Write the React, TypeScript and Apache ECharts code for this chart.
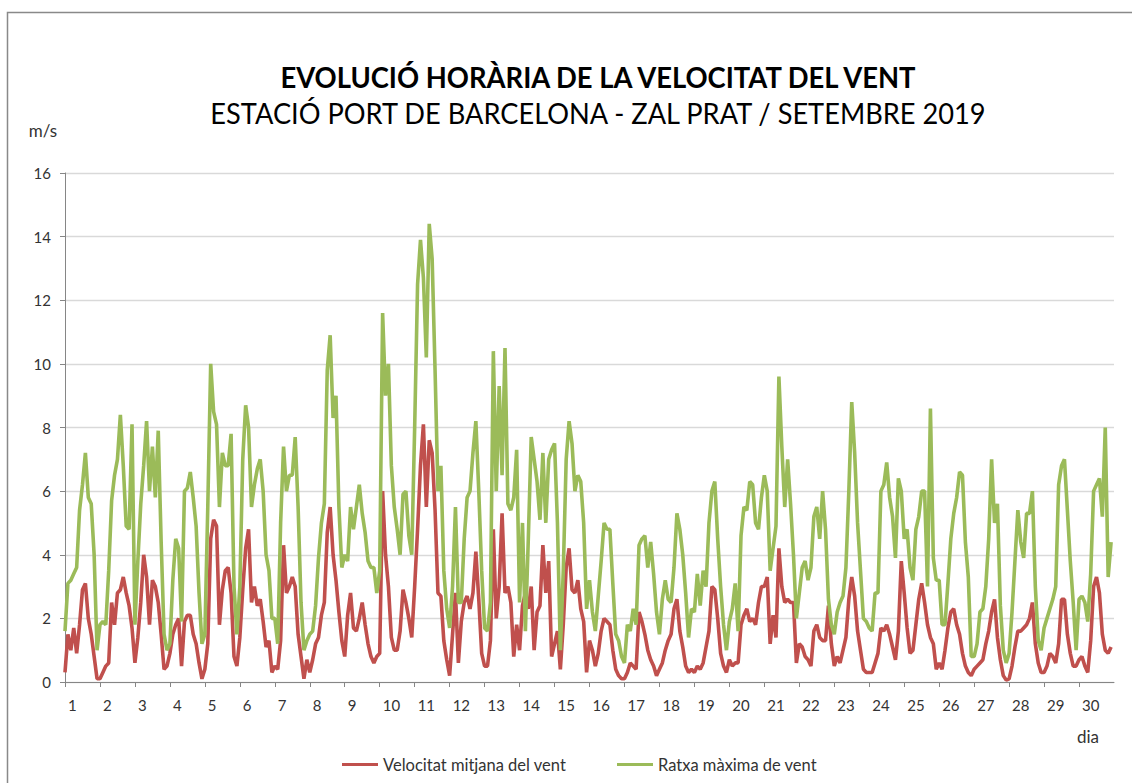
import { useEffect, useRef } from "react";
import * as echarts from "echarts";

const TITLE = "EVOLUCIÓ HORÀRIA DE LA VELOCITAT DEL VENT";
const SUBTITLE = "ESTACIÓ PORT DE BARCELONA - ZAL PRAT / SETEMBRE 2019";
const Y_UNIT = "m/s";
const X_UNIT = "dia";
const SERIES_NAMES = ["Velocitat mitjana del vent", "Ratxa màxima de vent"];
const DAY_LABELS = [
  "1", "2", "3", "4", "5", "6", "7", "8", "9", "10",
  "11", "12", "13", "14", "15", "16", "17", "18", "19", "20",
  "21", "22", "23", "24", "25", "26", "27", "28", "29", "30",
];
const HOURS_PER_SAMPLE = 2;
const HOURS_PER_DAY = 24;
const Y_MAX = 16;
const Y_STEP = 2;

// mean wind speed (m/s), one value every 2 hours, 12 per day
const meanSpeed = [
  0.3, 1.5, 1.0, 1.7, 0.9, 1.8, 2.9, 3.1, 2.0, 1.5, 0.8, 0.1, // 1
  0.1, 0.3, 0.5, 0.6, 2.5, 1.8, 2.8, 2.9, 3.3, 2.8, 2.4, 1.7, // 2
  0.6, 1.4, 2.5, 4.0, 3.3, 1.8, 3.2, 3.0, 2.5, 1.5, 0.4, 0.5, // 3
  0.9, 1.5, 1.8, 2.0, 0.5, 1.9, 2.1, 2.1, 1.5, 1.2, 0.6, 0.1, // 4
  0.4, 1.2, 4.5, 5.1, 4.9, 1.8, 2.9, 3.5, 3.6, 2.8, 0.8, 0.5, // 5
  1.4, 2.9, 4.2, 4.8, 2.5, 3.0, 2.4, 2.6, 1.9, 1.1, 1.3, 0.3, // 6
  0.5, 0.4, 1.3, 4.3, 2.8, 3.0, 3.3, 3.0, 1.5, 0.8, 0.1, 0.7, // 7
  0.3, 0.7, 1.2, 1.4, 2.1, 2.5, 4.7, 5.5, 4.0, 3.2, 2.2, 1.3, // 8
  0.8, 2.1, 2.8, 1.7, 1.6, 2.0, 2.5, 1.8, 1.2, 0.8, 0.6, 0.8, // 9
  0.9, 6.0, 4.0, 3.0, 1.4, 1.0, 1.0, 1.6, 2.9, 2.5, 2.0, 1.4, // 10
  3.0, 4.8, 6.8, 8.1, 5.5, 7.6, 7.2, 5.4, 2.8, 2.7, 1.3, 0.7, // 11
  0.2, 1.5, 2.8, 0.6, 1.9, 2.5, 2.7, 2.3, 2.8, 4.1, 2.6, 0.9, // 12
  0.5, 0.5, 1.3, 4.8, 2.0, 3.0, 5.3, 2.8, 3.0, 2.5, 0.8, 1.8, // 13
  1.0, 2.4, 2.8, 2.3, 3.0, 1.0, 2.2, 2.4, 4.3, 2.8, 3.8, 0.8, // 14
  1.2, 1.6, 0.4, 1.8, 3.6, 4.2, 2.9, 2.8, 3.2, 2.3, 1.9, 0.3, // 15
  1.3, 1.0, 0.5, 0.9, 1.6, 2.0, 1.9, 1.8, 1.0, 0.4, 0.2, 0.1, // 16
  0.1, 0.3, 0.6, 0.5, 0.4, 2.2, 1.9, 1.5, 1.0, 0.7, 0.5, 0.2, // 17
  0.4, 0.6, 1.0, 1.3, 1.5, 2.3, 2.6, 1.6, 1.1, 0.5, 0.3, 0.4, // 18
  0.3, 0.5, 0.4, 0.6, 1.1, 1.6, 3.0, 2.9, 2.0, 0.9, 0.5, 0.3, // 19
  0.7, 0.5, 0.6, 0.6, 1.8, 2.1, 2.3, 1.9, 2.0, 1.8, 2.5, 3.0, // 20
  3.0, 3.3, 1.2, 2.1, 1.4, 4.2, 3.0, 2.5, 2.6, 2.5, 2.5, 0.6, // 21
  1.2, 1.1, 0.8, 0.7, 0.5, 1.6, 1.8, 1.4, 1.3, 1.3, 2.4, 1.2, // 22
  0.5, 0.8, 0.6, 1.0, 1.4, 2.6, 3.3, 2.7, 1.6, 1.0, 0.4, 0.3, // 23
  0.3, 0.3, 0.6, 0.9, 1.7, 1.6, 1.8, 1.5, 1.1, 0.7, 1.6, 3.8, // 24
  2.8, 1.7, 0.9, 1.0, 1.8, 2.6, 3.1, 2.5, 1.8, 1.4, 1.2, 0.4, // 25
  0.6, 0.4, 1.0, 1.7, 2.2, 2.3, 1.8, 1.5, 0.9, 0.5, 0.3, 0.2, // 26
  0.4, 0.5, 0.6, 0.7, 1.2, 1.6, 2.2, 2.6, 1.4, 0.7, 0.2, 0.06, // 27
  0.1, 0.5, 1.1, 1.6, 1.6, 1.7, 1.8, 2.0, 2.5, 1.2, 0.6, 0.3, // 28
  0.3, 0.5, 0.9, 0.8, 0.6, 1.2, 2.6, 2.6, 1.5, 0.9, 0.5, 0.5, // 29
  0.7, 0.8, 0.5, 0.3, 1.3, 3.0, 3.3, 2.8, 1.5, 1.0, 0.9, 1.1, // 30
];

// maximum gust (m/s), one value every 2 hours, 12 per day
const maxGust = [
  1.6, 3.1, 3.2, 3.4, 3.6, 5.4, 6.2, 7.2, 5.8, 5.6, 4.0, 1.0, // 1
  1.8, 1.9, 1.8, 3.5, 5.7, 6.5, 7.0, 8.4, 6.8, 4.9, 4.8, 8.1, // 2
  1.8, 3.8, 5.6, 6.8, 8.2, 6.0, 7.4, 5.8, 7.9, 4.4, 1.5, 1.0, // 3
  1.2, 3.2, 4.5, 4.2, 1.9, 6.0, 6.1, 6.6, 5.8, 4.9, 2.8, 1.2, // 4
  1.5, 5.5, 10.0, 8.5, 8.1, 5.5, 7.2, 6.8, 6.8, 7.8, 3.0, 1.5, // 5
  3.0, 7.0, 8.7, 8.0, 5.5, 6.2, 6.7, 7.0, 6.0, 4.0, 3.5, 2.0, // 6
  2.0, 1.2, 5.0, 7.4, 6.0, 6.5, 6.5, 7.7, 5.5, 2.5, 1.0, 1.3, // 7
  1.5, 1.6, 2.4, 3.9, 5.0, 5.6, 9.8, 10.9, 8.3, 9.0, 5.5, 3.6, // 8
  4.0, 3.8, 5.5, 4.8, 5.5, 6.2, 5.3, 4.7, 3.8, 3.6, 3.6, 2.8, // 9
  3.5, 11.6, 9.0, 10.0, 6.8, 5.5, 4.8, 4.0, 5.9, 6.0, 4.6, 4.0, // 10
  8.0, 12.5, 13.9, 12.7, 10.2, 14.4, 13.3, 9.8, 6.0, 6.8, 3.5, 2.3, // 11
  1.7, 3.0, 5.5, 2.5, 2.5, 4.5, 5.8, 6.0, 7.2, 8.2, 6.0, 3.5, // 12
  1.7, 1.6, 2.5, 10.4, 6.0, 9.3, 6.5, 10.5, 5.6, 5.4, 5.8, 7.3, // 13
  2.5, 5.0, 1.6, 4.5, 7.7, 7.0, 6.3, 5.1, 7.2, 5.0, 7.0, 7.3, // 14
  7.5, 5.0, 1.0, 3.5, 7.0, 8.2, 7.5, 6.0, 6.5, 6.3, 5.0, 2.3, // 15
  3.2, 2.2, 1.6, 2.7, 3.8, 5.0, 4.8, 4.8, 3.1, 1.5, 1.3, 0.8, // 16
  0.6, 1.8, 1.6, 2.3, 1.8, 4.3, 4.5, 4.6, 3.6, 4.4, 3.4, 2.2, // 17
  1.5, 2.6, 3.2, 2.6, 2.5, 3.6, 5.3, 4.8, 4.0, 2.8, 1.4, 2.3, // 18
  2.2, 3.4, 2.4, 3.5, 3.0, 5.0, 6.0, 6.3, 4.5, 3.0, 1.8, 1.0, // 19
  1.9, 2.3, 3.1, 1.6, 4.6, 5.5, 5.4, 6.3, 6.2, 5.0, 4.8, 5.8, // 20
  6.5, 6.0, 3.5, 4.2, 4.9, 9.6, 7.4, 5.5, 7.0, 5.6, 4.0, 2.0, // 21
  2.8, 3.6, 3.8, 3.2, 3.6, 5.2, 5.5, 4.5, 6.0, 4.8, 2.6, 1.8, // 22
  1.5, 2.2, 2.5, 2.7, 3.6, 6.0, 8.8, 7.2, 5.0, 3.5, 2.0, 1.9, // 23
  1.7, 1.6, 2.8, 2.8, 6.0, 6.2, 6.9, 5.8, 5.2, 3.9, 6.4, 6.0, // 24
  4.5, 4.8, 3.6, 3.2, 4.8, 5.2, 6.0, 6.0, 3.0, 8.6, 3.9, 3.2, // 25
  3.2, 1.8, 1.8, 3.1, 4.5, 5.3, 5.8, 6.6, 6.5, 4.4, 3.3, 0.8, // 26
  0.8, 1.2, 2.2, 2.3, 3.0, 4.5, 7.0, 5.0, 5.6, 2.4, 1.0, 0.6, // 27
  0.9, 2.2, 3.8, 5.4, 4.4, 3.9, 5.3, 5.3, 6.0, 3.0, 1.3, 1.0, // 28
  1.7, 2.0, 2.3, 2.6, 3.0, 6.2, 6.8, 7.0, 5.4, 3.8, 2.5, 1.0, // 29
  2.6, 2.7, 2.5, 1.9, 3.4, 6.0, 6.2, 6.4, 5.2, 8.0, 3.3, 4.4, // 30
];

const RED = "#C0504D";
const GREEN = "#9BBB59";
const FONT = "Lato";
const TEXT_GREY = "#333333";

export default function App() {
  const ref = useRef<HTMLDivElement>(null);

  useEffect(() => {
    if (!ref.current) return;
    const chart = echarts.init(ref.current, undefined, { renderer: "svg" });
    const toPoints = (arr: number[]) => arr.map((v, i) => [i * HOURS_PER_SAMPLE, v]);
    const totalHours = DAY_LABELS.length * HOURS_PER_DAY;

    const legendCommon = {
      top: 756,
      padding: 0,
      icon: "rect",
      itemWidth: 36,
      itemHeight: 3,
      textStyle: { fontFamily: FONT, fontSize: 16.5, color: TEXT_GREY },
    };

    chart.setOption({
      animation: false,
      backgroundColor: "#ffffff",
      textStyle: { fontFamily: FONT },
      grid: { left: 65, right: 18, top: 173, bottom: 101, containLabel: false },
      legend: [
        { ...legendCommon, data: [SERIES_NAMES[0]], left: 342 },
        { ...legendCommon, data: [SERIES_NAMES[1]], left: 617 },
      ],
      xAxis: {
        type: "value",
        min: 0,
        max: totalHours,
        interval: HOURS_PER_DAY,
        axisLine: { show: true, lineStyle: { color: "#868686", width: 1 } },
        axisTick: { show: true, length: 5, lineStyle: { color: "#868686" } },
        splitLine: { show: false },
        axisLabel: {
          show: true,
          align: "left",
          padding: [0, 0, 0, 3],
          margin: 15,
          fontFamily: FONT,
          fontSize: 15,
          color: TEXT_GREY,
          showMaxLabel: false,
          formatter: (v: number) => {
            const idx = Math.round(v / HOURS_PER_DAY);
            return idx < DAY_LABELS.length ? DAY_LABELS[idx] : "";
          },
        },
      },
      yAxis: {
        type: "value",
        min: 0,
        max: Y_MAX,
        interval: Y_STEP,
        axisLine: { show: true, lineStyle: { color: "#868686", width: 1 } },
        axisTick: { show: true, length: 5, lineStyle: { color: "#868686" } },
        splitLine: { show: true, lineStyle: { color: "#d9d9d9", width: 1.3 } },
        axisLabel: { margin: 14, fontFamily: FONT, fontSize: 15, color: TEXT_GREY },
      },
      series: [
        {
          name: SERIES_NAMES[0],
          type: "line",
          data: toPoints(meanSpeed),
          showSymbol: false,
          symbol: "none",
          lineStyle: { color: RED, width: 3.6 },
          itemStyle: { color: RED },
          z: 2,
        },
        {
          name: SERIES_NAMES[1],
          type: "line",
          data: toPoints(maxGust),
          showSymbol: false,
          symbol: "none",
          lineStyle: { color: GREEN, width: 3.6 },
          itemStyle: { color: GREEN },
          z: 3,
        },
      ],
      graphic: [
        {
          type: "rect",
          shape: { x: 7.5, y: 12.5, width: 1140, height: 800 },
          style: { fill: "none", stroke: "#898989", lineWidth: 1.5 },
          silent: true,
        },
        {
          type: "text",
          x: 598,
          y: 77,
          scaleX: 0.978,
          style: {
            text: TITLE,
            fontFamily: FONT,
            fontWeight: "bold",
            fontSize: 28,
            fill: "#000000",
            align: "center",
            verticalAlign: "middle",
          },
        },
        {
          type: "text",
          x: 598,
          y: 113,
          scaleX: 0.972,
          style: {
            text: SUBTITLE,
            fontFamily: FONT,
            fontSize: 28,
            fill: "#000000",
            align: "center",
            verticalAlign: "middle",
          },
        },
        {
          type: "text",
          x: 43,
          y: 130,
          style: {
            text: Y_UNIT,
            fontFamily: FONT,
            fontSize: 17,
            fill: TEXT_GREY,
            align: "center",
            verticalAlign: "middle",
          },
        },
        {
          type: "text",
          x: 1088,
          y: 736,
          style: {
            text: X_UNIT,
            fontFamily: FONT,
            fontSize: 17,
            fill: TEXT_GREY,
            align: "center",
            verticalAlign: "middle",
          },
        },
      ],
    });

    return () => chart.dispose();
  }, []);

  return (
    <div
      ref={ref}
      style={{ position: "fixed", left: 0, top: 0, width: 1132, height: 783, background: "#fff" }}
    />
  );
}
